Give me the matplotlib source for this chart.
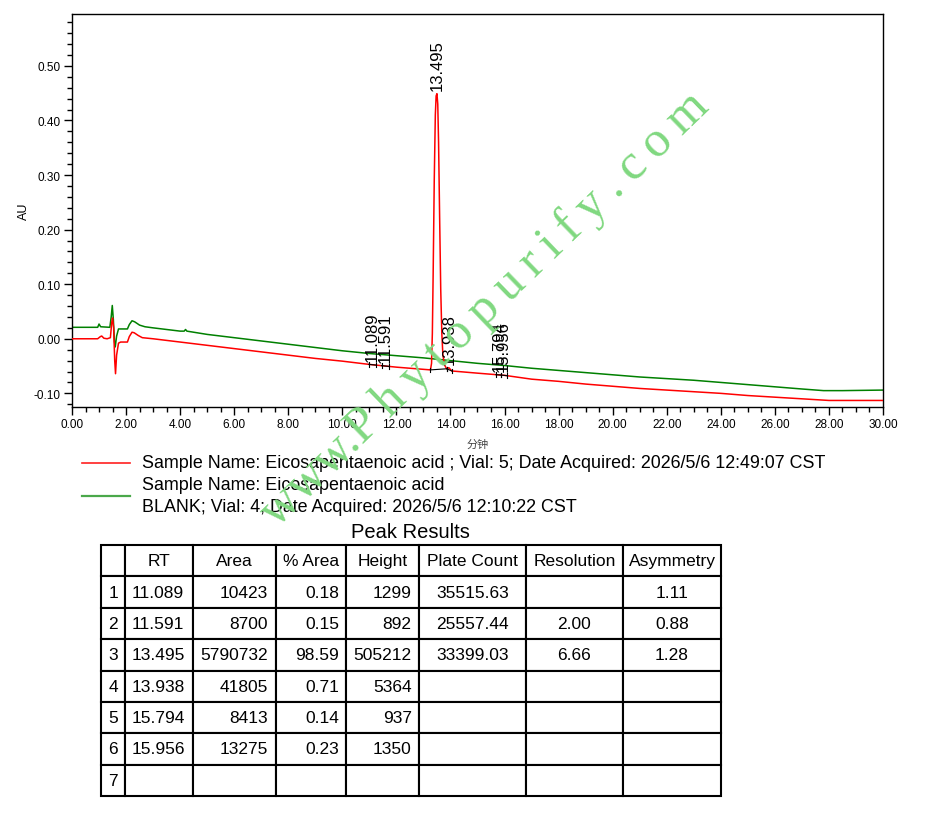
import numpy as np
import matplotlib
matplotlib.use("Agg")
import matplotlib.pyplot as plt
from matplotlib.ticker import MultipleLocator, FormatStrFormatter
from matplotlib.lines import Line2D
from matplotlib.table import Table

plt.rcParams['font.family'] = ['Liberation Sans', 'DejaVu Sans']

# ---- chromatogram traces ----
red_t = [0.0, 0.95, 1.05, 1.10, 1.18, 1.30, 1.42, 1.47, 1.50, 1.54, 1.58, 1.61, 1.65,
         1.72, 1.80, 2.05, 2.12, 2.22, 2.30, 2.45, 2.60, 3.0, 4.0, 5.0, 6.0, 7.0, 8.0,
         9.0, 10.0, 11.0, 12.0, 13.0, 13.26, 13.30, 13.33, 13.36, 13.40, 13.44, 13.47,
         13.50, 13.53, 13.56, 13.60, 13.64, 13.68, 13.72, 13.78, 13.86, 13.94, 14.05,
         15.0, 16.0, 17.0, 18.0, 19.0, 20.0, 21.0, 22.0, 23.0, 24.0, 25.0, 26.0, 27.0,
         28.0, 29.0, 30.0]
red_au = [0.000, 0.000, 0.004, 0.005, 0.001, 0.000, 0.002, 0.030, 0.038, 0.020, -0.040,
          -0.064, -0.030, -0.008, -0.006, -0.006, 0.004, 0.012, 0.011, 0.006, 0.002,
          0.000, -0.006, -0.012, -0.018, -0.024, -0.030, -0.036, -0.041, -0.047, -0.052,
          -0.056, -0.057, -0.045, 0.010, 0.120, 0.290, 0.410, 0.445, 0.449, 0.430, 0.360,
          0.220, 0.090, 0.010, -0.030, -0.048, -0.055, -0.053, -0.059,
          -0.063, -0.067, -0.074, -0.078, -0.083, -0.087, -0.091, -0.094, -0.097,
          -0.100, -0.104, -0.107, -0.110, -0.113, -0.113, -0.113]

green_t = [0.0, 0.95, 1.00, 1.06, 1.40, 1.45, 1.49, 1.53, 1.57, 1.60, 1.65, 1.72, 2.05,
           2.12, 2.22, 2.32, 2.50, 2.70, 3.0, 4.0, 4.15, 4.20, 4.25, 5.0, 6.0, 7.0, 8.0,
           9.0, 10.0, 11.0, 12.0, 13.0, 14.0, 15.0, 16.0, 17.0, 18.0, 19.0, 20.0, 21.0,
           22.0, 23.0, 24.0, 25.0, 26.0, 27.0, 27.8, 28.5, 30.0]
green_au = [0.021, 0.021, 0.027, 0.022, 0.021, 0.040, 0.061, 0.035, -0.005, -0.015,
            0.005, 0.018, 0.018, 0.026, 0.033, 0.031, 0.025, 0.022, 0.020, 0.014, 0.014,
            0.017, 0.014, 0.008, 0.002, -0.004, -0.010, -0.016, -0.022, -0.027, -0.031,
            -0.035, -0.040, -0.045, -0.049, -0.054, -0.058, -0.062, -0.066, -0.070,
            -0.073, -0.076, -0.080, -0.084, -0.088, -0.092, -0.095, -0.095, -0.094]

# ---- integrated peaks ----
peak_rt = [11.089, 11.591, 13.495, 13.938, 15.794, 15.956]
peak_start = [10.98, 11.45, 13.26, 13.86, 15.68, 15.88]
peak_end = [11.25, 11.72, 13.86, 14.05, 15.88, 16.08]

# ---- legend texts ----
red_label = "Sample Name: Eicosapentaenoic acid ; Vial: 5; Date Acquired: 2026/5/6 12:49:07 CST"
green_label = ["Sample Name: Eicosapentaenoic acid",
               "BLANK; Vial: 4; Date Acquired: 2026/5/6 12:10:22 CST"]

# ---- peak results table ----
col_headers = ["", "RT", "Area", "% Area", "Height", "Plate Count", "Resolution", "Asymmetry"]
row_ids = ["1", "2", "3", "4", "5", "6", "7"]
rt_col = ["11.089", "11.591", "13.495", "13.938", "15.794", "15.956", ""]
area_col = ["10423", "8700", "5790732", "41805", "8413", "13275", ""]
pct_col = ["0.18", "0.15", "98.59", "0.71", "0.14", "0.23", ""]
height_col = ["1299", "892", "505212", "5364", "937", "1350", ""]
plate_col = ["35515.63", "25557.44", "33399.03", "", "", "", ""]
res_col = ["", "2.00", "6.66", "", "", "", ""]
asym_col = ["1.11", "0.88", "1.28", "", "", "", ""]

W, H = 927, 820
fig = plt.figure(figsize=(W / 100, H / 100), dpi=100)

ax = fig.add_axes([72 / W, 1 - 408 / H, (883 - 72) / W, (408 - 15) / H])
ax.plot(green_t, green_au, color='#008000', lw=1.1, zorder=2)
ax.plot(red_t, red_au, color='#ff0000', lw=1.1, zorder=3)

for rt, t0, t1 in zip(peak_rt, peak_start, peak_end):
    y0 = np.interp(t0, red_t, red_au)
    y1 = np.interp(t1, red_t, red_au)
    ax.plot([t0, t1], [y0, y1], color='black', lw=0.8, zorder=4)
    for tt, yy in ((t0, y0), (t1, y1)):
        ax.plot([tt, tt], [yy - 0.004, yy + 0.004], color='black', lw=0.8, zorder=4)
    ytop = np.interp(rt, red_t, red_au)
    ax.annotate(f"{rt:.3f}", xy=(rt, ytop), xytext=(0, 3), textcoords='offset points',
                rotation=90, ha='center', va='bottom', fontsize=12, zorder=5)

ax.set_xlim(0, 30)
ax.set_ylim(-0.125, 0.595)
ax.xaxis.set_major_locator(MultipleLocator(2))
ax.xaxis.set_minor_locator(MultipleLocator(0.5))
ax.yaxis.set_major_locator(MultipleLocator(0.1))
ax.yaxis.set_minor_locator(MultipleLocator(0.02))
ax.xaxis.set_major_formatter(FormatStrFormatter('%.2f'))
ax.yaxis.set_major_formatter(FormatStrFormatter('%.2f'))
ax.tick_params(which='major', direction='out', length=6, width=1, labelsize=8.5, pad=2)
ax.tick_params(which='minor', direction='out', length=3.5, width=1)
for s in ax.spines.values():
    s.set_linewidth(1)
ax.set_ylabel("AU", fontsize=9, labelpad=3)
ax.set_xlabel("分钟", fontsize=8, color='#444444', labelpad=6,
              family=['Noto Sans CJK SC', 'DejaVu Sans'])

# ---- overlay for legend, title and watermark (pixel coordinates) ----
ov = fig.add_axes([0, 0, 1, 1], zorder=10)
ov.set_xlim(0, W)
ov.set_ylim(H, 0)
ov.axis('off')
ov.patch.set_alpha(0)

ov.add_line(Line2D([82, 130], [464, 464], color='#ff2020', lw=1.2))
ov.text(142, 464, red_label, fontsize=12.85, va='center', ha='left')
ov.add_line(Line2D([82, 130], [497, 497], color='#4aa84a', lw=1.6))
ov.text(142, 486, green_label[0], fontsize=12.85, va='center', ha='left')
ov.text(142, 507, green_label[1], fontsize=12.85, va='center', ha='left')
ov.text(410, 533, "Peak Results", fontsize=14.5, va='center', ha='center')

# ---- table ----
tax = fig.add_axes([101 / W, 1 - 797 / H, (721 - 101) / W, (797 - 546) / H])
tax.axis('off')
col_px = [24, 68, 83, 70, 73, 107, 97, 98]
col_w = [c / sum(col_px) for c in col_px]
col_loc = ['center', 'left', 'right', 'right', 'right', 'center', 'center', 'center']
columns = [row_ids, rt_col, area_col, pct_col, height_col, plate_col, res_col, asym_col]
nrows = len(row_ids) + 1
rh = 1.0 / nrows
tbl = Table(tax, bbox=[0, 0, 1, 1])
for j, head in enumerate(col_headers):
    c = tbl.add_cell(0, j, col_w[j], rh, text=head, loc='center')
    c.set_linewidth(1.5)
    c.get_text().set_fontsize(12.5)
for i in range(len(row_ids)):
    for j, col in enumerate(columns):
        c = tbl.add_cell(i + 1, j, col_w[j], rh, text=col[i], loc=col_loc[j])
        c.set_linewidth(1.5)
        c.get_text().set_fontsize(12.5)
        if j == 0:
            c.PAD = 0.05
tbl.auto_set_font_size(False)
tax.add_table(tbl)

# ---- watermark ----
ts = "\u2009"
mark = "www." + ts.join("Phytopurify.com")
ov.text(485, 309, mark, rotation=44, rotation_mode='anchor',
        ha='center', va='center', fontsize=36.5, color='#80d880',
        family=['Liberation Serif', 'DejaVu Serif'], zorder=20)

fig.savefig("out.png", dpi=100)
